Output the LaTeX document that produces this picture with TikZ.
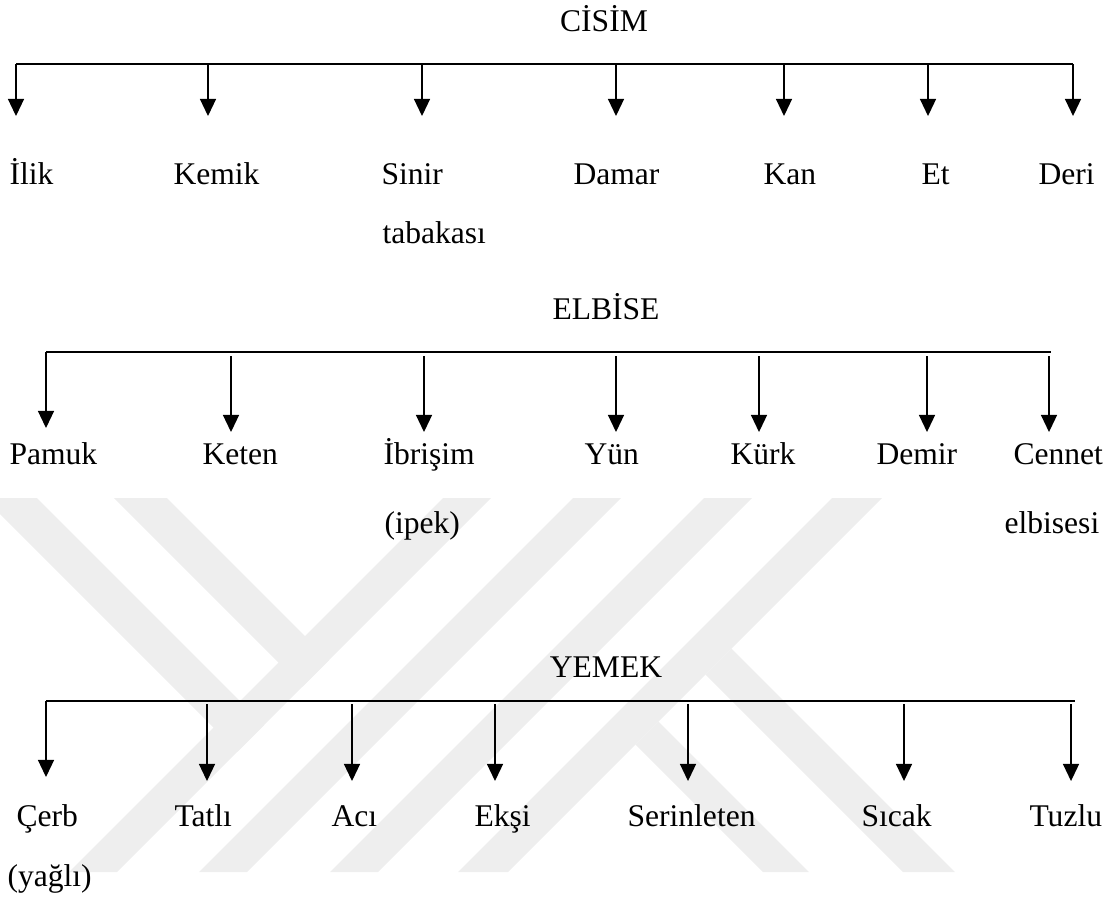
\documentclass[tikz,border=0pt]{standalone}
\usepackage{fontspec}
\setmainfont{Liberation Serif}
\usetikzlibrary{arrows.meta}
\definecolor{wmgray}{RGB}{238,238,238}
\begin{document}
\begin{tikzpicture}[x=0.38pt,y=-0.38pt,
    bar/.style={line width=0.5pt},
    drop/.style={line width=0.5pt,-{Triangle[length=6.5pt,width=6.1pt]}},
    lbl/.style={anchor=base west,inner sep=0pt,font=\fontsize{12}{14}\selectfont},
    ttl/.style={anchor=base,inner sep=0pt,font=\fontsize{12}{14}\selectfont}]
  \useasboundingbox (0,0) rectangle (1114,900);
  % watermark
  \fill[wmgray] (69,872) -- (117,872) -- (491,498) -- (443,498) -- cycle;
  \fill[wmgray] (199,872) -- (247,872) -- (621,498) -- (573,498) -- cycle;
  \fill[wmgray] (330,872) -- (378,872) -- (752,498) -- (704,498) -- cycle;
  \fill[wmgray] (458,872) -- (508,872) -- (882,498) -- (832,498) -- cycle;
  \fill[wmgray] (0,498) -- (37,498) -- (264,725) -- (237.5,751.5) -- (0,514) -- cycle;
  \fill[wmgray] (114,498) -- (167,498) -- (329,660) -- (302.5,686.5) -- cycle;
  \fill[wmgray] (635.5,744.5) -- (658.5,721.5) -- (809,872) -- (763,872) -- cycle;
  \fill[wmgray] (705.5,674.5) -- (731.5,648.5) -- (955,872) -- (903,872) -- cycle;

  % CISIM
  \node[ttl] (cisim) at (604,31) {CİSİM};
  \coordinate (bar1w) at (16,64);
  \coordinate (bar1e) at (1073,64);
  \draw[bar] (bar1w) -- (bar1e);
  \coordinate (tip-ilik) at (16,116);
  \coordinate (tip-kemik) at (208,116);
  \coordinate (tip-sinir) at (422,116);
  \coordinate (tip-damar) at (616,116);
  \coordinate (tip-kan) at (784,116);
  \coordinate (tip-et) at (928,116);
  \coordinate (tip-deri) at (1073,116);
  \draw[drop] (bar1w) -- (tip-ilik);
  \draw[drop] (tip-kemik |- bar1w) -- (tip-kemik);
  \draw[drop] (tip-sinir |- bar1w) -- (tip-sinir);
  \draw[drop] (tip-damar |- bar1w) -- (tip-damar);
  \draw[drop] (tip-kan |- bar1w) -- (tip-kan);
  \draw[drop] (tip-et |- bar1w) -- (tip-et);
  \draw[drop] (bar1e) -- (tip-deri);
  \node[lbl] (ilik) at (9,184) {İlik};
  \node[lbl] (kemik) at (173,184) {Kemik};
  \node[lbl] (sinir) at (381,184) {Sinir};
  \node[lbl] (tabakasi) at (382,243) {tabakası};
  \node[lbl] (damar) at (573,184) {Damar};
  \node[lbl] (kan) at (763,184) {Kan};
  \node[lbl] (et) at (921,184) {Et};
  \node[lbl] (deri) at (1038,184) {Deri};

  % ELBISE
  \node[ttl] (elbise) at (606,319) {ELBİSE};
  \coordinate (bar2w) at (46,352);
  \coordinate (bar2e) at (1051,352);
  \coordinate (bar2s) at (46,356);
  \draw[bar] (bar2w) -- (bar2e);
  \coordinate (tip-pamuk) at (46,428);
  \coordinate (tip-keten) at (231,432);
  \coordinate (tip-ibrisim) at (424,432);
  \coordinate (tip-yun) at (616,432);
  \coordinate (tip-kurk) at (759,432);
  \coordinate (tip-demir) at (927,432);
  \coordinate (tip-cennet) at (1049,432);
  \draw[drop] (bar2w) -- (tip-pamuk);
  \draw[drop] (tip-keten |- bar2s) -- (tip-keten);
  \draw[drop] (tip-ibrisim |- bar2s) -- (tip-ibrisim);
  \draw[drop] (tip-yun |- bar2s) -- (tip-yun);
  \draw[drop] (tip-kurk |- bar2s) -- (tip-kurk);
  \draw[drop] (tip-demir |- bar2s) -- (tip-demir);
  \draw[drop] (tip-cennet |- bar2s) -- (tip-cennet);
  \node[lbl] (pamuk) at (9,464) {Pamuk};
  \node[lbl] (keten) at (202,464) {Keten};
  \node[lbl] (ibrisim) at (383,464) {İbrişim};
  \node[lbl] (ipek) at (384,533) {(ipek)};
  \node[lbl] (yun) at (584,464) {Yün};
  \node[lbl] (kurk) at (730,464) {Kürk};
  \node[lbl] (demir) at (876,464) {Demir};
  \node[lbl] (cennet) at (1013,464) {Cennet};
  \node[lbl] (elbisesi) at (1004,533) {elbisesi};

  % YEMEK
  \node[ttl] (yemek) at (606,677) {YEMEK};
  \coordinate (bar3w) at (46,701);
  \coordinate (bar3e) at (1075,701);
  \coordinate (bar3s) at (46,704);
  \draw[bar] (bar3w) -- (bar3e);
  \coordinate (tip-cerb) at (46,777);
  \coordinate (tip-tatli) at (207,781);
  \coordinate (tip-aci) at (352,781);
  \coordinate (tip-eksi) at (495,781);
  \coordinate (tip-serinleten) at (688,781);
  \coordinate (tip-sicak) at (904,781);
  \coordinate (tip-tuzlu) at (1071,781);
  \draw[drop] (bar3w) -- (tip-cerb);
  \draw[drop] (tip-tatli |- bar3s) -- (tip-tatli);
  \draw[drop] (tip-aci |- bar3s) -- (tip-aci);
  \draw[drop] (tip-eksi |- bar3s) -- (tip-eksi);
  \draw[drop] (tip-serinleten |- bar3s) -- (tip-serinleten);
  \draw[drop] (tip-sicak |- bar3s) -- (tip-sicak);
  \draw[drop] (tip-tuzlu |- bar3s) -- (tip-tuzlu);
  \node[lbl] (cerb) at (16,826) {Çerb};
  \node[lbl] (yagli) at (7,886) {(yağlı)};
  \node[lbl] (tatli) at (174,826) {Tatlı};
  \node[lbl] (aci) at (331,826) {Acı};
  \node[lbl] (eksi) at (474,826) {Ekşi};
  \node[lbl] (serinleten) at (627,826) {Serinleten};
  \node[lbl] (sicak) at (861,826) {Sıcak};
  \node[lbl] (tuzlu) at (1029,826) {Tuzlu};
\end{tikzpicture}
\end{document}
